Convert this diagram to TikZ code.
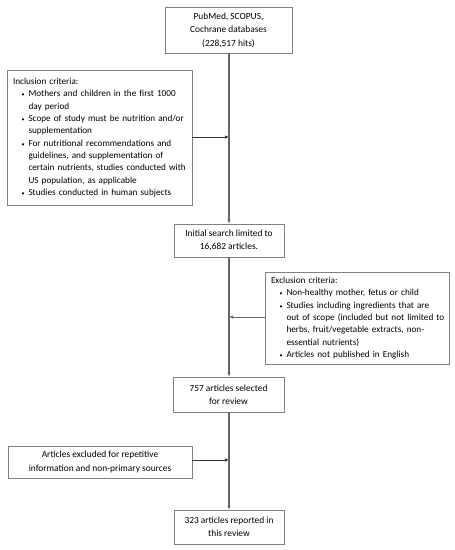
\documentclass[tikz,border=0pt]{standalone}
\usepackage{fontspec}
\setmainfont{Carlito}
\usetikzlibrary{arrows.meta}
\tikzset{
  cbox/.style={draw=black!50, line width=0.8pt, fill=white, inner sep=0pt, align=center, font=\fontsize{9.4}{13.4}\selectfont},
  lbox/.style={draw=black!50, line width=0.8pt, fill=white, inner xsep=6pt, inner ysep=0pt, align=left, font=\fontsize{9.2}{12.3}\selectfont},
  mainline/.style={draw=black!60, line width=1.3pt},
  sidearrow/.style={draw=black!80, line width=0.8pt, -{Latex[length=4pt,width=3.5pt]}},
  mainarrow/.style={mainline, -{Latex[length=4pt,width=3.5pt]}}
}
\newcommand{\bul}{\hspace*{8.5pt}\makebox[7pt][l]{\fontsize{6}{6}\selectfont\textbullet}}
\newcommand{\cont}{\hspace*{15.5pt}}
\begin{document}
\begin{tikzpicture}[x=1pt,y=-1pt]
\useasboundingbox (0,0) rectangle (455,550);
% boxes
\node[cbox, minimum width=127pt, minimum height=46pt] (db) at (228.5,30) {PubMed, SCOPUS,\\Cochrane databases\\(228,517 hits)};
\node[lbox, minimum width=185pt, minimum height=135pt, text width=173pt] (inc) at (99.5,137.5) {\begin{tabular}{@{}l@{}}Inclusion criteria:\\
\bul Mothers and children in the first 1000\\
\cont day period\\
\bul Scope of study must be nutrition and/or\\
\cont supplementation\\
\bul For nutritional recommendations and\\
\cont guidelines, and supplementation of\\
\cont certain nutrients, studies conducted with\\
\cont US population, as applicable\\
\bul Studies conducted in human subjects\end{tabular}};
\node[cbox, minimum width=110pt, minimum height=33pt] (init) at (229,240.5) {Initial search limited to\\16,682 articles.};
\node[lbox, minimum width=184pt, minimum height=92pt, text width=172pt] (exc) at (357,318) {\begin{tabular}{@{}l@{}}Exclusion criteria:\\
\bul Non-healthy mother, fetus or child\\
\bul Studies including ingredients that are\\
\cont out of scope (included but not limited to\\
\cont herbs, fruit/vegetable extracts, non-\\
\cont essential nutrients)\\
\bul Articles not published in English\end{tabular}};
\node[cbox, minimum width=111pt, minimum height=35pt] (sel) at (228.5,394.5) {757 articles selected\\for review};
\node[cbox, minimum width=184pt, minimum height=32pt] (rep) at (100,462) {Articles excluded for repetitive\\information and non-primary sources};
\node[cbox, minimum width=110pt, minimum height=34pt] (fin) at (229,527) {323 articles reported in\\this review};
% connectors
\coordinate (j1) at (229,137);
\coordinate (j2) at (229,317);
\coordinate (j3) at (229,460);
\draw[mainarrow] (db.south -| j1) -- (init.north -| j1);
\draw[sidearrow] (inc.east |- j1) -- (j1);
\draw[mainarrow] (init.south -| j2) -- (sel.north -| j2);
\draw[sidearrow, draw=black!60, line width=1pt] (exc.west |- j2) -- (j2);
\draw[mainarrow] (sel.south -| j3) -- (fin.north -| j3);
\draw[sidearrow] (rep.east |- j3) -- (j3);
\end{tikzpicture}
\end{document}
